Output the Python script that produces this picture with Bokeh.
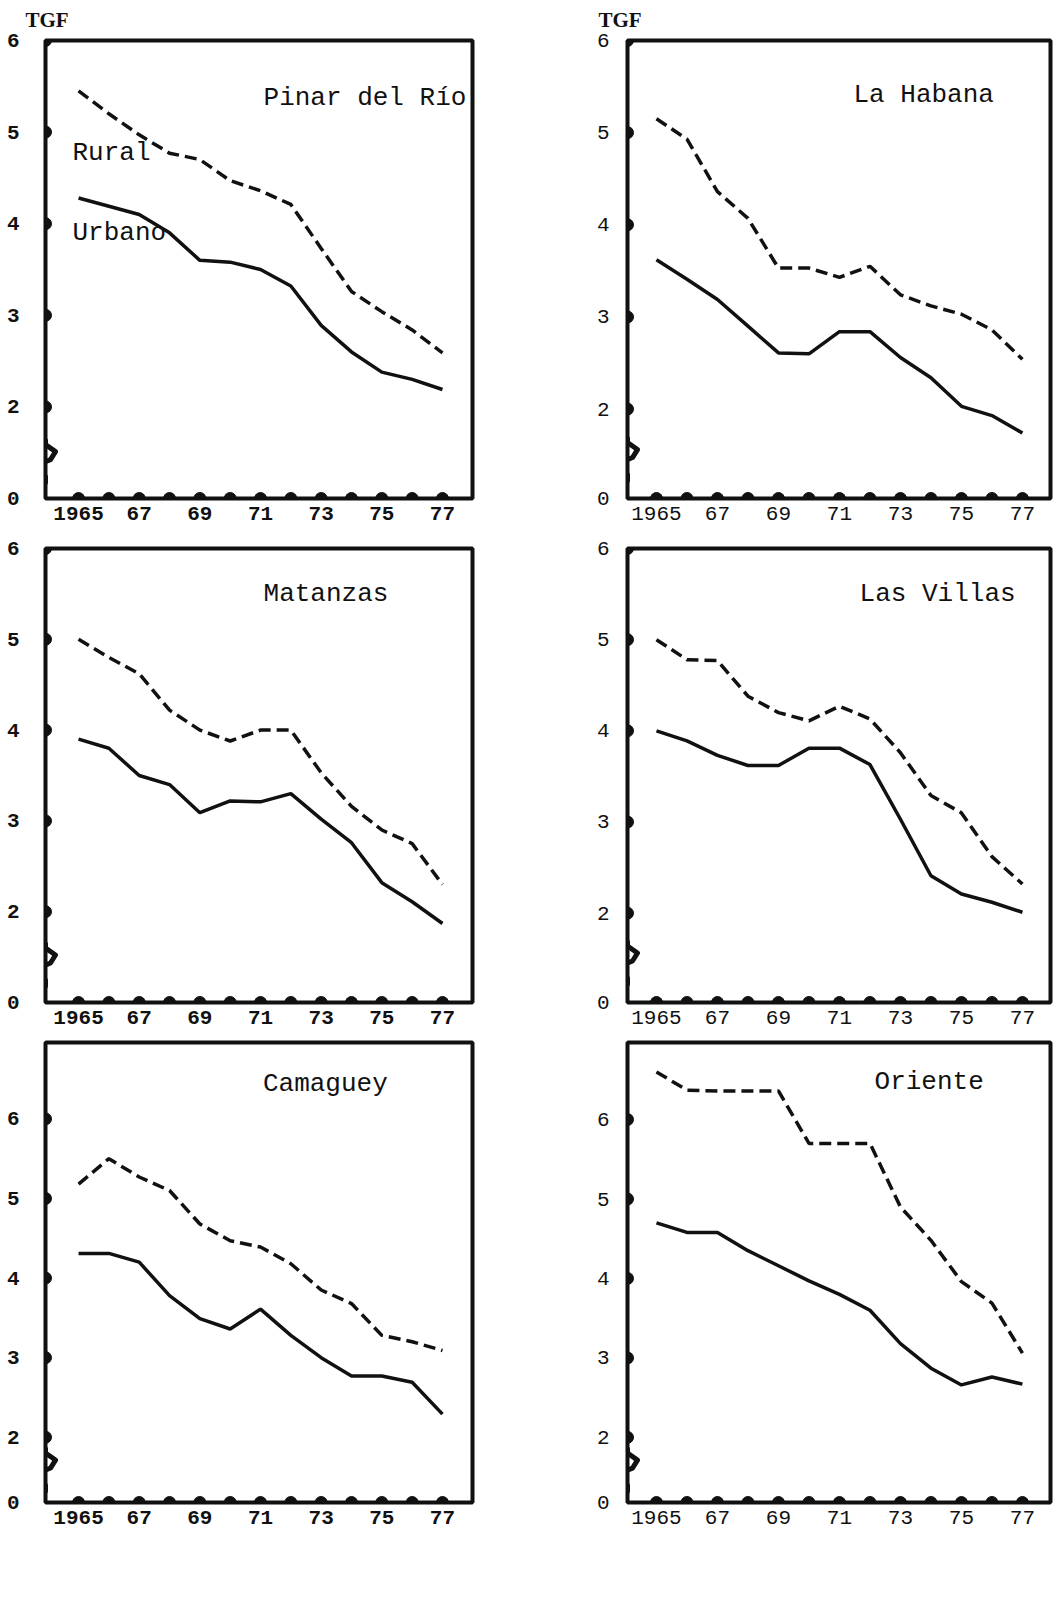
import math
from bokeh.plotting import figure
from bokeh.layouts import column, row
from bokeh.models import FixedTicker, Range1d
from bokeh.embed import file_html
from bokeh.resources import INLINE
from bokeh.core.properties import value

# ---------------- data ----------------
YEARS = list(range(1965, 1978))
XTICK_YEARS = [1965, 1967, 1969, 1971, 1973, 1975, 1977]
XTICK_LABELS = ["1965", "67", "69", "71", "73", "75", "77"]
YTICK_VALUES = [2, 3, 4, 5, 6]
YTICK_LABELS = ["2", "3", "4", "5", "6"]
ZERO_LABEL = "0"
Y_AXIS_TITLE = "TGF"
SERIES_LABELS = ["Rural", "Urbano"]

PROVINCES = ["Pinar del Río", "La Habana", "Matanzas", "Las Villas", "Camaguey", "Oriente"]

pinar_rural = [5.45, 5.2, 4.97, 4.77, 4.7, 4.47, 4.36, 4.21, 3.73, 3.26, 3.04, 2.84, 2.59]
pinar_urbano = [4.28, 4.19, 4.1, 3.9, 3.6, 3.58, 3.5, 3.32, 2.89, 2.6, 2.38, 2.3, 2.19]
habana_rural = [5.15, 4.93, 4.36, 4.07, 3.53, 3.53, 3.43, 3.55, 3.24, 3.12, 3.03, 2.86, 2.54]
habana_urbano = [3.62, 3.41, 3.19, 2.9, 2.61, 2.6, 2.84, 2.84, 2.56, 2.34, 2.03, 1.93, 1.74]
matanzas_rural = [5.0, 4.8, 4.62, 4.22, 4.0, 3.88, 4.0, 4.0, 3.53, 3.16, 2.9, 2.75, 2.3]
matanzas_urbano = [3.9, 3.8, 3.5, 3.4, 3.09, 3.22, 3.21, 3.3, 3.02, 2.76, 2.32, 2.11, 1.87]
villas_rural = [5.0, 4.78, 4.77, 4.38, 4.2, 4.11, 4.27, 4.13, 3.76, 3.29, 3.1, 2.62, 2.32]
villas_urbano = [4.0, 3.89, 3.73, 3.62, 3.62, 3.81, 3.81, 3.63, 3.03, 2.41, 2.21, 2.12, 2.01]
camaguey_rural = [5.18, 5.5, 5.27, 5.1, 4.68, 4.47, 4.39, 4.18, 3.85, 3.68, 3.28, 3.2, 3.09]
camaguey_urbano = [4.31, 4.31, 4.2, 3.78, 3.49, 3.36, 3.61, 3.28, 3.0, 2.77, 2.77, 2.69, 2.29]
oriente_rural = [6.6, 6.37, 6.36, 6.36, 6.36, 5.7, 5.7, 5.7, 4.9, 4.48, 3.96, 3.69, 3.06]
oriente_urbano = [4.7, 4.58, 4.58, 4.35, 4.16, 3.97, 3.8, 3.6, 3.18, 2.87, 2.66, 2.76, 2.67]

RURAL = [pinar_rural, habana_rural, matanzas_rural, villas_rural, camaguey_rural, oriente_rural]
URBANO = [pinar_urbano, habana_urbano, matanzas_urbano, villas_urbano, camaguey_urbano, oriente_urbano]

# ---------------- layout / style ----------------
INK = "#111111"
MONO = "Liberation Mono"

ROW_H = [530, 505, 560]
ROW_TOP = [40, 18, 7]
ROW_FRAME_H = [458, 454, 460]
COL_W = [540, 518]
COL_LEFT = [45, 87]
COL_FRAME_W = [427, 423]
COL_X_RANGE = [(1963.91, 1977.99), (1964.05, 1977.92)]
Y_RANGES = [(1.0, 6.0), (1.03, 6.0), (1.0, 6.0), (1.02, 6.0), (1.18, 6.96), (1.18, 6.97)]
TITLE_POS = [(1971.1, 5.37), (1971.46, 5.41), (1971.1, 5.5), (1971.66, 5.5), (1971.08, 6.44), (1972.15, 6.47)]
BREAK_Y = [1.37, 1.42, 1.38, 1.42, 1.55, 1.55]
LABEL_STANDOFF = [20, 12]
LABEL_STYLE = ["bold", "normal"]
TGF_OFFSET = [-20, -29]
# break-mark shape in screen pixels relative to the axis (dx right, dy down)
BREAK_SHAPE = [(0, -24), (0, -20), (10, -13), (5, -5), (-12, 2), (-6, 8), (0, 12), (0, 18)]


def make_panel(i):
    r, c = divmod(i, 2)
    x0, x1 = COL_X_RANGE[c]
    y0, y1 = Y_RANGES[i]
    p = figure(
        width=COL_W[c], height=ROW_H[r],
        x_range=Range1d(x0, x1), y_range=Range1d(y0, y1),
        output_backend="svg", toolbar_location=None,
        min_border_left=COL_LEFT[c],
        min_border_right=COL_W[c] - COL_LEFT[c] - COL_FRAME_W[c],
        min_border_top=ROW_TOP[r],
        min_border_bottom=ROW_H[r] - ROW_TOP[r] - ROW_FRAME_H[r],
        title=Y_AXIS_TITLE if r == 0 else None,
    )
    if r == 0:
        p.title.align = "left"
        p.title.offset = TGF_OFFSET[c]
        p.title.standoff = 13
        p.title.vertical_align = "top"
        p.title.text_font = "Liberation Serif"
        p.title.text_font_size = "21px"
        p.title.text_font_style = "bold"
        p.title.text_color = INK
    p.xgrid.visible = False
    p.ygrid.visible = False
    p.outline_line_color = INK
    p.outline_line_width = 4
    p.background_fill_color = "white"
    p.border_fill_color = "white"

    xa = p.xaxis[0]
    xa.ticker = FixedTicker(ticks=XTICK_YEARS, minor_ticks=YEARS)
    xa.major_label_overrides = dict(zip(XTICK_YEARS, XTICK_LABELS))
    ya = p.yaxis[0]
    ya.ticker = FixedTicker(ticks=[y0] + YTICK_VALUES)
    ov = dict(zip(YTICK_VALUES, YTICK_LABELS))
    ov[y0] = ZERO_LABEL
    ya.major_label_overrides = ov
    for ax in (xa, ya):
        ax.axis_line_color = None
        ax.major_tick_line_color = None
        ax.minor_tick_line_color = None
        ax.major_label_text_font = MONO
        ax.major_label_text_font_size = "21px"
        ax.major_label_text_font_style = LABEL_STYLE[c]
        ax.major_label_text_color = INK
    xa.major_label_standoff = 2
    ya.major_label_standoff = LABEL_STANDOFF[c]

    # tick bumps on the inside of the frame (half discs)
    p.wedge(x=YEARS, y=[y0] * len(YEARS), radius=6, radius_units="screen",
            start_angle=0, end_angle=math.pi, color=INK)
    p.wedge(x=[x0] * len(YTICK_VALUES), y=YTICK_VALUES, radius=6, radius_units="screen",
            start_angle=-math.pi / 2, end_angle=math.pi / 2, color=INK)

    p.line(YEARS, RURAL[i], line_color=INK, line_width=3.5, line_dash="12 6")
    p.line(YEARS, URBANO[i], line_color=INK, line_width=3.5)

    tx, ty = TITLE_POS[i]
    p.text(x=[tx], y=[ty], text=[PROVINCES[i]], text_font=value(MONO),
           text_font_size=value("26px"), text_baseline="middle", text_align="left",
           text_color=INK)
    if i == 0:
        p.text(x=[1964.8, 1964.8], y=[4.77, 3.9], text=SERIES_LABELS, text_font=value(MONO),
               text_font_size=value("26px"), text_baseline="middle", text_align="left",
               text_color=INK)

    # axis break mark (pixel shape converted to data units)
    sx = (x1 - x0) / COL_FRAME_W[c]
    sy = (y1 - y0) / ROW_FRAME_H[r]
    bx = [x0 + dx * sx for dx, dy in BREAK_SHAPE]
    by = [BREAK_Y[i] - dy * sy for dx, dy in BREAK_SHAPE]
    p.line(bx, by, line_color=INK, line_width=5, line_join="round", line_cap="round")
    return p


panels = [make_panel(i) for i in range(6)]
layout = column(
    row(panels[0], panels[1], spacing=0),
    row(panels[2], panels[3], spacing=0),
    row(panels[4], panels[5], spacing=0),
    spacing=0,
)

open("out.html", "w").write(file_html(layout, INLINE))
